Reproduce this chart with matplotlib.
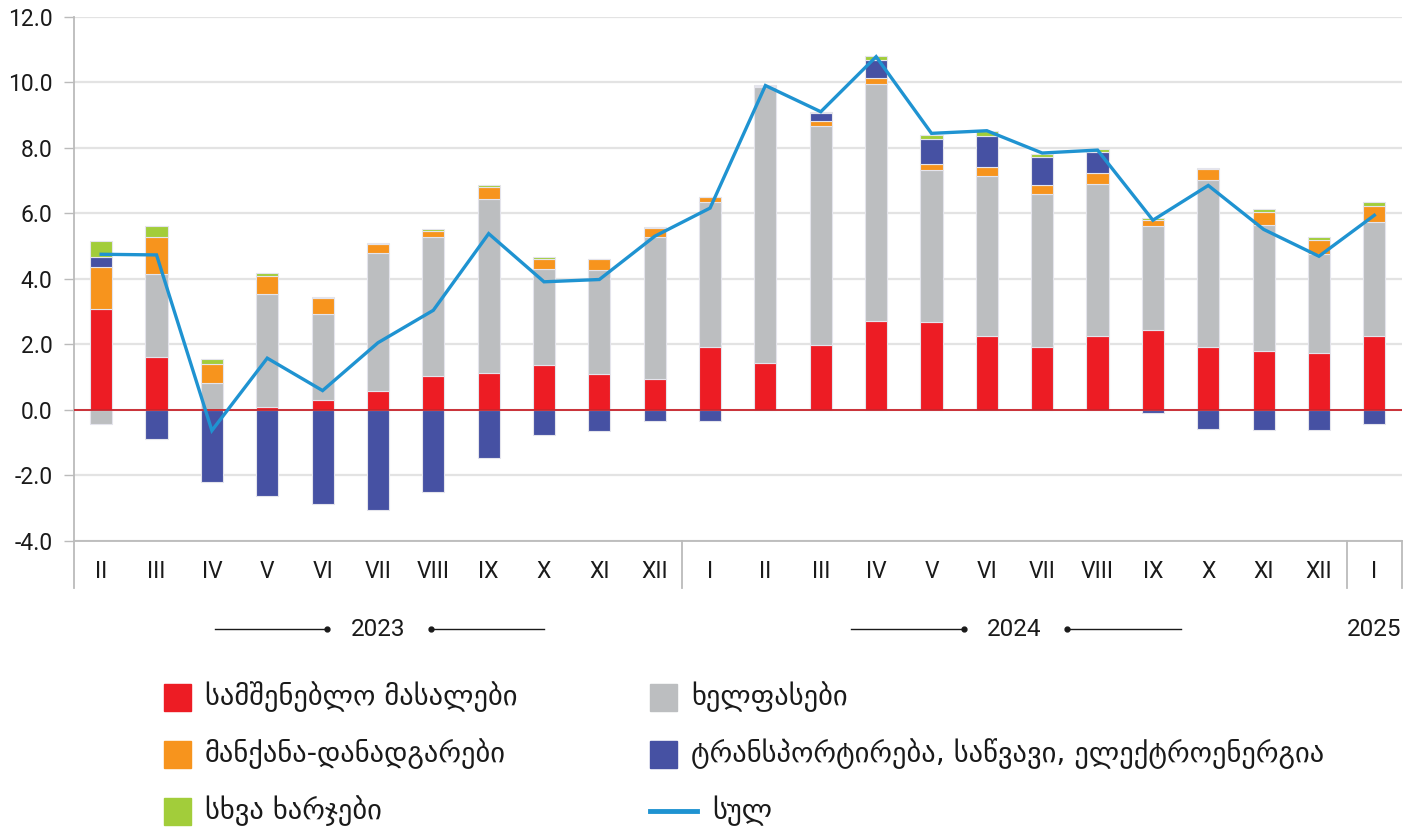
import matplotlib
matplotlib.use("Agg")
import matplotlib.pyplot as plt
import matplotlib.transforms as mtransforms
from matplotlib.patches import Rectangle
from matplotlib.lines import Line2D
import numpy as np

plt.rcParams['font.family'] = ['Roboto', 'DejaVu Sans']

months = ['II', 'III', 'IV', 'V', 'VI', 'VII', 'VIII', 'IX', 'X', 'XI', 'XII',
          'I', 'II', 'III', 'IV', 'V', 'VI', 'VII', 'VIII', 'IX', 'X', 'XI', 'XII',
          'I']
materials = [3.08, 1.61, 0.00, 0.10, 0.31, 0.59, 1.05, 1.12, 1.36, 1.10, 0.93,
             1.93, 1.42, 1.97, 2.72, 2.69, 2.27, 1.93, 2.27, 2.45, 1.93, 1.80, 1.75,
             2.27]
wages = [-0.43, 2.53, 0.83, 3.44, 2.63, 4.19, 4.23, 5.33, 2.95, 3.18, 4.36,
         4.43, 8.43, 6.68, 7.22, 4.63, 4.88, 4.66, 4.61, 3.15, 5.08, 3.83, 3.02,
         3.48]
machinery = [1.28, 1.14, 0.56, 0.54, 0.49, 0.27, 0.19, 0.35, 0.31, 0.32, 0.27,
             0.13, 0.03, 0.18, 0.20, 0.20, 0.25, 0.26, 0.36, 0.20, 0.35, 0.41, 0.41,
             0.47]
transport = [0.31, -0.89, -2.20, -2.62, -2.86, -3.04, -2.49, -1.48, -0.78, -0.63, -0.33,
             -0.33, 0.00, 0.22, 0.54, 0.76, 0.96, 0.87, 0.63, -0.09, -0.58, -0.61, -0.62,
             -0.43]
other = [0.49, 0.33, 0.17, 0.10, 0.03, 0.03, 0.06, 0.05, 0.05, 0.01, 0.02,
         0.01, 0.03, 0.03, 0.11, 0.12, 0.14, 0.10, 0.08, 0.05, 0.03, 0.08, 0.11,
         0.14]
total = [4.75, 4.73, -0.63, 1.58, 0.59, 2.05, 3.04, 5.38, 3.91, 3.98, 5.30,
         6.16, 9.90, 9.10, 10.78, 8.44, 8.52, 7.84, 7.93, 5.79, 6.85, 5.51, 4.69,
         5.94]
years = ['2023', '2024', '2025']
year_spans = [(0, 10), (11, 22), (23, 23)]

labels = ['სამშენებლო მასალები', 'ხელფასები', 'მანქანა-დანადგარები',
          'ტრანსპორტირება, საწვავი, ელექტროენერგია', 'სხვა ხარჯები']
total_label = 'სულ'
series = [materials, wages, machinery, transport, other]
colors = ['#ED1C24', '#BCBEC0', '#F7941D', '#4651A3', '#A2CD3A']
line_color = '#1F93D1'

W, H = 1420, 830
fig = plt.figure(figsize=(W / 100, H / 100), dpi=100)
ax_l, ax_r, ax_t, ax_b = 73.5, 1402, 16.7, 541
ax = fig.add_axes([ax_l / W, 1 - ax_b / H, (ax_r - ax_l) / W, (ax_b - ax_t) / H])

x = np.arange(len(months))
pos_base = np.zeros(len(x))
neg_base = np.zeros(len(x))
for vals, c in zip(series, colors):
    v = np.array(vals, dtype=float)
    base = np.where(v >= 0, pos_base, neg_base)
    ax.bar(x, v, width=0.4, bottom=base, color=c, edgecolor='#E4E4EC',
           linewidth=0.8, zorder=3)
    pos_base = pos_base + np.where(v >= 0, v, 0)
    neg_base = neg_base + np.where(v < 0, v, 0)

ax.plot(x, total, color=line_color, lw=2.4, zorder=5, solid_joinstyle='miter')
ax.axhline(0, color='#C8232B', lw=1.3, zorder=4)

ax.set_xlim(-0.5, len(months) - 0.5)
ax.set_ylim(-4, 12)
ax.set_yticks(np.arange(-4, 12.1, 2))
ax.set_yticklabels([f'{v:.1f}' for v in np.arange(-4, 12.1, 2)])
ax.yaxis.grid(True, color='#E3E3E3', lw=1.6, zorder=0)
ax.set_axisbelow(True)
ax.tick_params(axis='y', length=7, width=1, color='#BBBBBB', labelsize=16.5,
               pad=8, labelcolor='#1A1A1A')
ax.set_xticks([])
for s in ['top', 'right']:
    ax.spines[s].set_visible(False)
for s in ['left', 'bottom']:
    ax.spines[s].set_color('#BBBBBB')
    ax.spines[s].set_linewidth(1.3)

trans = mtransforms.blended_transform_factory(ax.transData, ax.transAxes)
for i, m in enumerate(months):
    ax.text(i, -0.058, m, transform=trans, ha='center', va='center',
            fontsize=16.5, color='#1A1A1A')

# separators below the axis
sep_y = -0.09
for xs in [-0.5, 10.5, 22.5, 23.5]:
    ax.add_line(Line2D([xs, xs], [0, sep_y], transform=trans, color='#BBBBBB',
                       lw=1.3, clip_on=False))

# year labels
for yr, (a, b) in zip(years, year_spans):
    c = (a + b) / 2
    ax.text(c, -0.168, yr, transform=trans, ha='center', va='center',
            fontsize=17.5, color='#1A1A1A')
    if b - a > 3:
        for l0, l1, dot in [(c - 2.95, c - 0.92, c - 0.92), (c + 0.95, c + 3.0, c + 0.95)]:
            ax.add_line(Line2D([l0, l1], [-0.168, -0.168], transform=trans,
                               color='#1A1A1A', lw=1.0, clip_on=False))
            ax.plot([dot], [-0.168], transform=trans, marker='o', ms=3.5,
                    color='#1A1A1A', clip_on=False)

# legend (manual, figure pixel coordinates)
def fx(px):
    return px / W

def fy(py):
    return 1 - py / H

rows = [697, 754, 811]
entries = [(0, 164, rows[0]), (1, 650, rows[0]), (2, 164, rows[1]),
           (3, 650, rows[1]), (4, 164, rows[2])]
sq = 27
for idx, px, py in entries:
    fig.add_artist(Rectangle((fx(px), fy(py + sq / 2)), sq / W, sq / H,
                             transform=fig.transFigure, color=colors[idx]))
    fig.text(fx(px + 41), fy(py), labels[idx], ha='left', va='center',
             fontsize=20.5, family='DejaVu Sans', color='#1A1A1A')
fig.add_artist(Line2D([fx(650), fx(697)], [fy(811), fy(811)],
                      transform=fig.transFigure, color=line_color, lw=3.5))
fig.text(fx(712), fy(811), total_label, ha='left', va='center',
         fontsize=20.5, family='DejaVu Sans', color='#1A1A1A')

fig.savefig('out.png', dpi=100, facecolor='white')
